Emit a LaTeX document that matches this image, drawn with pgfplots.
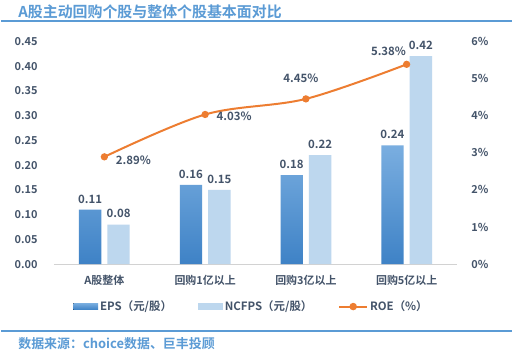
\documentclass[border=0pt]{standalone}
\usepackage{fontspec}
\setmainfont{Noto Sans CJK SC}[BoldFont={Noto Sans CJK SC Bold}]
\usepackage{pgfplots}
\pgfplotsset{compat=1.18}
\definecolor{epsA}{HTML}{7AAEE0}
\definecolor{epsB}{HTML}{3E82C6}
\definecolor{ncf}{HTML}{BDD7EE}
\definecolor{roe}{HTML}{ED7D31}
\definecolor{txt}{HTML}{44546A}
\definecolor{ttl}{HTML}{5B9BD5}
\begin{document}
\begin{tikzpicture}[x=1pt,y=1pt,font=\bfseries]
\fill[white] (0,0) rectangle (513,355);
\draw[ttl, line width=2.5pt] (0,334) -- (513,334);
\node[anchor=west, text=ttl, inner sep=0] at (17,343) {\fontsize{15}{17}\selectfont A股主动回购个股与整体个股基本面对比};
\draw[ttl, line width=2pt] (0,22) -- (513,22);
\node[anchor=west, text=ttl, inner sep=0] at (17,10) {\fontsize{13}{15}\selectfont 数据来源：choice数据、巨丰投顾};

\begin{axis}[
  at={(53pt,89.5pt)}, anchor=south west,
  scale only axis, width=405pt, height=224pt,
  xmin=-0.5, xmax=3.5, ymin=0, ymax=0.45,
  xtick={0,1,2,3},
  xticklabels={A股整体,回购1亿以上,回购3亿以上,回购5亿以上},
  ytick={0,0.05,0.1,0.15,0.2,0.25,0.3,0.35,0.4,0.45},
  axis x line*=bottom, axis y line*=left,
  x axis line style={draw=gray!35, line width=0.8pt, -},
  y axis line style={draw=none},
  major tick length=0pt,
  tick label style={text=txt, font=\fontsize{11}{12}\selectfont\bfseries},
  yticklabel style={xshift=-13pt},
  xticklabel style={yshift=-8pt},
  /pgf/number format/.cd, fixed, fixed zerofill, precision=2, assume math mode=true,
  /pgfplots/.cd,
  legend style={draw=none, fill=none, at={(0.49,-0.19)}, anchor=center,
    font=\fontsize{11.5}{13}\selectfont\bfseries, text=txt,
    /tikz/every even column/.append style={column sep=24pt}},
  legend columns=3,
]
\addplot[ybar, bar width=22.5pt, bar shift=-14.25pt, draw=none, top color=epsA, bottom color=epsB,
  nodes near coords,
  every node near coord/.append style={text=txt, font=\fontsize{11.5}{13}\selectfont\bfseries, yshift=3pt, xshift=-14.25pt},
  legend image code/.code={\fill[top color=epsA, bottom color=epsB] (0pt,-3pt) rectangle (25pt,3.5pt);}]
  coordinates {(0,0.11) (1,0.16) (2,0.18) (3,0.24)};
\addlegendentry{EPS（元/股）}
\addplot[ybar, bar width=22.5pt, bar shift=14.25pt, draw=none, fill=ncf,
  nodes near coords,
  every node near coord/.append style={text=txt, font=\fontsize{11.5}{13}\selectfont\bfseries, yshift=3pt, xshift=14.25pt},
  legend image code/.code={\fill[ncf] (0pt,-3pt) rectangle (25pt,3.5pt);}]
  coordinates {(0,0.08) (1,0.15) (2,0.22) (3,0.42)};
\addlegendentry{NCFPS（元/股）}
\addlegendimage{roe, line width=2pt, mark=*, mark size=2.5pt, mark options={fill=roe, draw=roe},
  legend image code/.code={\draw[roe, line width=2pt] (0pt,0pt) -- (28pt,0pt); \fill[roe] (14pt,0pt) circle (2.7pt);}}
\addlegendentry{ROE（\%）}
\end{axis}

\begin{axis}[
  at={(53pt,89.5pt)}, anchor=south west,
  scale only axis, width=405pt, height=224pt,
  xmin=-0.5, xmax=3.5, ymin=0, ymax=6,
  ytick={0,1,2,3,4,5,6},
  yticklabel={\pgfmathparse{int(round(\tick))}\pgfmathresult\%},
  axis x line=none, axis y line*=right,
  y axis line style={draw=none},
  major tick length=0pt,
  tick label style={text=txt, font=\fontsize{11}{12}\selectfont\bfseries},
  yticklabel style={xshift=11pt},
]
\addplot[roe, line width=2pt, smooth, tension=0.55, mark=*, mark size=2.6pt, mark options={fill=roe, draw=roe}]
  coordinates {(0,2.89) (1,4.03) (2,4.45) (3,5.38)};
\node[text=txt, font=\fontsize{11.5}{13}\selectfont\bfseries, anchor=west] at (axis cs:0.08,2.8) {2.89\%};
\node[text=txt, font=\fontsize{11.5}{13}\selectfont\bfseries, anchor=west] at (axis cs:1.08,3.97) {4.03\%};
\node[text=txt, font=\fontsize{11.5}{13}\selectfont\bfseries] at (axis cs:1.95,5.0) {4.45\%};
\node[text=txt, font=\fontsize{11.5}{13}\selectfont\bfseries] at (axis cs:2.82,5.72) {5.38\%};
\end{axis}
\end{tikzpicture}
\end{document}
